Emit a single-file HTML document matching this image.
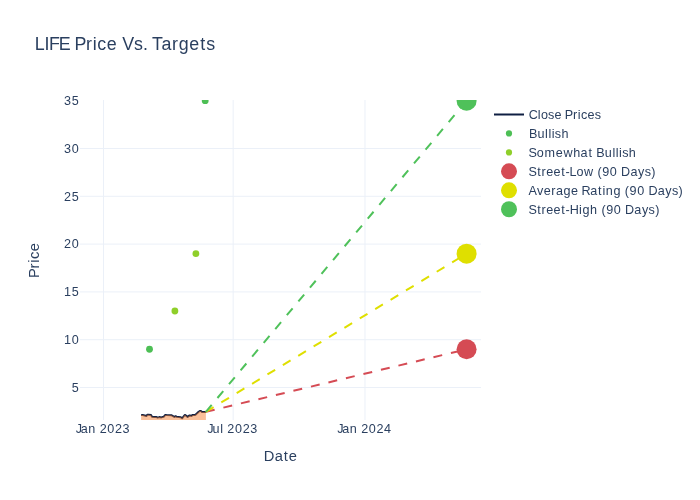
<!DOCTYPE html>
<html><head><meta charset="utf-8"><title>LIFE Price Vs. Targets</title>
<style>html,body{margin:0;padding:0;background:#fff;width:700px;height:500px;overflow:hidden;font-family:"Liberation Sans", sans-serif;}svg{display:block;will-change:transform}</style>
</head><body>
<svg width="700" height="500" viewBox="0 0 700 500"><rect x="0" y="0" width="700" height="500" fill="#fff"/>
<g stroke="#ebf0f8" stroke-width="1"><line x1="80" x2="481" y1="148.5" y2="148.5"/><line x1="80" x2="481" y1="196.3" y2="196.3"/><line x1="80" x2="481" y1="244.1" y2="244.1"/><line x1="80" x2="481" y1="291.9" y2="291.9"/><line x1="80" x2="481" y1="339.7" y2="339.7"/><line x1="80" x2="481" y1="387.5" y2="387.5"/><line x1="103.5" x2="103.5" y1="100" y2="420"/><line x1="233.17" x2="233.17" y1="100" y2="420"/><line x1="364.99" x2="364.99" y1="100" y2="420"/></g>
<defs><clipPath id="pc"><rect x="80" y="100" width="401" height="320"/></clipPath></defs>
<g clip-path="url(#pc)"><polyline points="141.1,414.9 142.7,415.1 144.7,415.5 146.3,416 147.3,414.8 148.4,414.8 151,415.1 152,416.8 154.1,417 156.1,416.9 157.6,417.6 159.3,417.1 161.3,417.4 163.6,416.8 165.3,414.9 166.4,415.1 171.3,415.2 173,416.1 174.4,416.9 175.6,416.2 176.4,416.7 178.4,416.9 180.8,417.2 182.1,418.3 184.7,415 185.2,415 187.6,416.9 189.6,415.4 190,415.5 191.4,415.9 192.8,414.9 195,415 196.2,414.1 197.6,412.8 198.4,412 199.8,411 200.9,411.1 202,412 203.4,412.1 205.9,412.1" fill="none" stroke="#0f1f42" stroke-width="2" stroke-linejoin="round"/><polygon points="141.1,420 141.1,414.9 142.7,415.1 144.7,415.5 146.3,416 147.3,414.8 148.4,414.8 151,415.1 152,416.8 154.1,417 156.1,416.9 157.6,417.6 159.3,417.1 161.3,417.4 163.6,416.8 165.3,414.9 166.4,415.1 171.3,415.2 173,416.1 174.4,416.9 175.6,416.2 176.4,416.7 178.4,416.9 180.8,417.2 182.1,418.3 184.7,415 185.2,415 187.6,416.9 189.6,415.4 190,415.5 191.4,415.9 192.8,414.9 195,415 196.2,414.1 197.6,412.8 198.4,412 199.8,411 200.9,411.1 202,412 203.4,412.1 205.9,412.1 205.9,420" fill="#f58135" fill-opacity="0.5"/><line x1="205.9" y1="411.8" x2="466.6" y2="349.26" stroke="#d54b54" stroke-width="2" stroke-dasharray="9,9"/><line x1="205.9" y1="411.8" x2="466.6" y2="253.66" stroke="#dfdf00" stroke-width="2" stroke-dasharray="9,9"/><line x1="205.9" y1="411.8" x2="466.6" y2="100.7" stroke="#4fc15a" stroke-width="2" stroke-dasharray="9,9"/><circle cx="149.5" cy="349.26" r="3.4" fill="#4dbf55"/><circle cx="205.2" cy="100.7" r="3.4" fill="#4dbf55"/><circle cx="174.9" cy="311.02" r="3.4" fill="#8fcf2a"/><circle cx="195.9" cy="253.66" r="3.4" fill="#8fcf2a"/><circle cx="466.6" cy="349.26" r="10" fill="#d54b54"/><circle cx="466.6" cy="253.66" r="10" fill="#dfdf00"/><circle cx="466.6" cy="100.7" r="10" fill="#4fc15a"/></g>
<g fill="#2a3f5f" font-family='"Liberation Sans", sans-serif'><text x="64.05 71.68" y="104.9" font-size="12.6" >35</text><text x="64.05 71.68" y="152.7" font-size="12.6" >30</text><text x="64.05 71.68" y="200.5" font-size="12.6" >25</text><text x="64.05 71.68" y="248.3" font-size="12.6" >20</text><text x="64.05 71.68" y="296.1" font-size="12.6" >15</text><text x="64.05 71.68" y="343.9" font-size="12.6" >10</text><text x="71.69" y="391.7" font-size="12.6" >5</text><text x="75.7 80.79 88.27 95.73 99.71 107.34 114.97 122.61" y="433" font-size="12.6" >Jan 2023</text><text x="207.37 212.59 220.16 223.38 227.36 234.99 242.63 250.26" y="433" font-size="12.6" >Jul 2023</text><text x="337.18 342.27 349.75 357.21 361.19 368.82 376.45 384.09" y="433" font-size="12.6" >Jan 2024</text><text x="263.85 274.74 283.84 288.84" y="460.7" font-size="14.7" >Date</text><text x="-277.88 -268.46 -262.82 -259.07 -251.32" y="38.8" font-size="14.7" transform="rotate(-90)">Price</text><text x="34.78 44.5 48.92 58.68 70.23 74.44 85.89 92.73 97.28 106.68 117.11 122.15 133.88 143 148.4 151.91 161.4 171.94 178.68 189.31 200.36 206.13" y="49.8" font-size="17.85" >LIFE Price Vs. Targets</text><text x="528.65 537.65 540.88 548.03 554.5 561.85 564.81 572.89 577.73 580.95 587.58 594.75" y="118.8" font-size="12.6" >Close Prices</text><text x="528.92 537.53 545.1 548.44 551.77 554.81 561.39" y="137.75" font-size="12.6" >Bullish</text><text x="528.61 536.79 544.56 555.83 563.4 573.14 580.62 588.41 592.66 596.24 604.86 612.43 615.76 619.1 622.14 628.71" y="156.7" font-size="12.6" >Somewhat Bullish</text><text x="528.61 537.22 541.56 546.18 553.57 561.36 565.53 569.53 576.43 583.97 593.59 597.48 602.23 609.87 617.35 621.08 630.42 638 644.67 651.19" y="175.65" font-size="12.6" >Street-Low (90 Days)</text><text x="528.56 536.9 543.79 551.36 556.1 563.58 571.08 578.43 581.58 590.34 598.12 602.49 605.86 613.46 620.94 624.84 629.59 637.22 644.71 648.43 657.78 665.36 672.03 678.55" y="194.6" font-size="12.6" >Average Rating (90 Days)</text><text x="528.61 537.22 541.56 546.18 553.57 561.36 565.53 569.76 579.08 582.46 590.07 597.52 601.43 606.18 613.82 621.29 625.03 634.36 641.95 648.62 655.14" y="213.55" font-size="12.6" >Street-High (90 Days)</text></g>
<line x1="494" x2="524" y1="114.5" y2="114.5" stroke="#0f1f42" stroke-width="2"/><circle cx="509" cy="133.45" r="3.1" fill="#4dbf55"/><circle cx="509" cy="152.4" r="3.1" fill="#8fcf2a"/><circle cx="509" cy="171.35" r="8" fill="#d54b54"/><circle cx="509" cy="190.3" r="8" fill="#dfdf00"/><circle cx="509" cy="209.25" r="8" fill="#4fc15a"/></svg>
</body></html>
